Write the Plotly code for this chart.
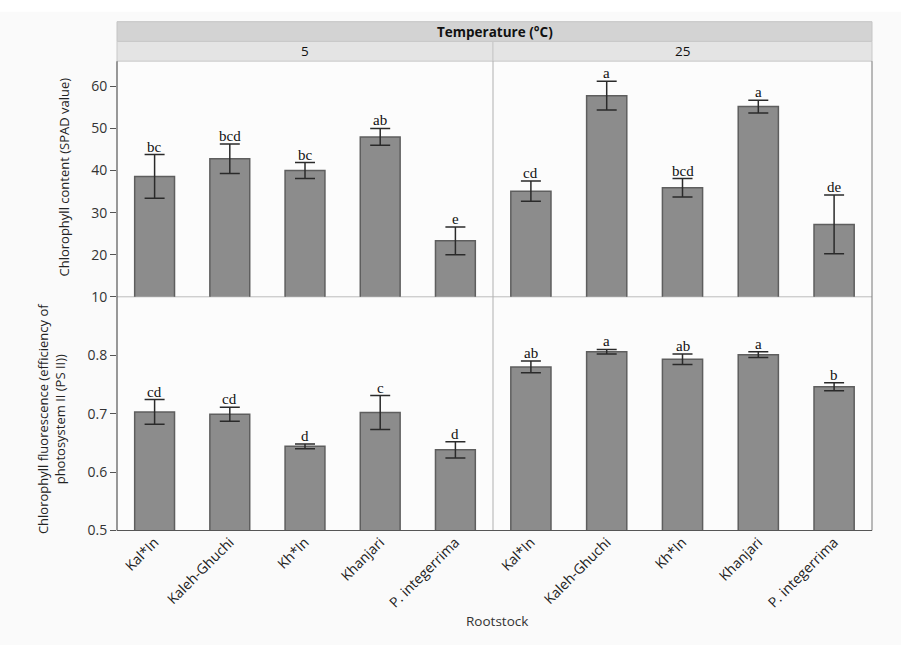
import plotly.graph_objects as go

W, H = 901, 645

rootstocks = ["Kal*In", "Kaleh-Ghuchi", "Kh*In", "Khanjari", "P. integerrima"]
temps = ["5", "25"]

spad_5 = [38.6, 42.8, 40.0, 48.0, 23.3]
spad_5_err = [5.2, 3.5, 1.9, 2.0, 3.3]
spad_25 = [35.1, 57.8, 35.9, 55.2, 27.2]
spad_25_err = [2.4, 3.4, 2.2, 1.5, 7.0]
spad_5_letters = ["bc", "bcd", "bc", "ab", "e"]
spad_25_letters = ["cd", "a", "bcd", "a", "de"]

fv_5 = [0.703, 0.699, 0.644, 0.702, 0.638]
fv_5_err = [0.021, 0.012, 0.004, 0.029, 0.014]
fv_25 = [0.780, 0.806, 0.793, 0.801, 0.746]
fv_25_err = [0.010, 0.004, 0.009, 0.005, 0.007]
fv_5_letters = ["cd", "cd", "d", "c", "d"]
fv_25_letters = ["ab", "a", "ab", "a", "b"]

spad_ticks = [10, 20, 30, 40, 50, 60]
fv_ticks = [0.5, 0.6, 0.7, 0.8]

# layout in pixels
L, M, R = 117, 493, 872
T, MID, B = 62, 301, 538

def px(x):
    return x / W

def py(y):
    return 1 - y / H

fig = go.Figure()

BAR_COLOR = "#8c8c8c"
BAR_LINE = "#5e5e5e"
ERR_COLOR = "#2a2a2a"

panels = [
    ("x", "y", spad_5, spad_5_err, spad_5_letters),
    ("x2", "y2", spad_25, spad_25_err, spad_25_letters),
    ("x3", "y3", fv_5, fv_5_err, fv_5_letters),
    ("x4", "y4", fv_25, fv_25_err, fv_25_letters),
]

annotations = []
for xa, ya, vals, errs, letters in panels:
    fig.add_trace(go.Bar(
        x=rootstocks, y=vals, xaxis=xa, yaxis=ya,
        marker=dict(color=BAR_COLOR, line=dict(color=BAR_LINE, width=1.5)),
        error_y=dict(type="data", array=errs, visible=True, color=ERR_COLOR,
                     thickness=1.5, width=10),
        showlegend=False, hoverinfo="skip",
    ))
    for c, v, e, lab in zip(rootstocks, vals, errs, letters):
        annotations.append(dict(
            x=c, y=v + e, xref=xa, yref=ya, text=lab, showarrow=False,
            xanchor="center", yanchor="bottom", yshift=-2,
            font=dict(family="Liberation Serif", size=15, color="#111"),
        ))

tickfont = dict(family="Open Sans", size=14, color="#333")
xtickfont = dict(family="Open Sans", size=14, color="#222")

common_x = dict(type="category", showgrid=False, zeroline=False, showline=False, ticks="")
fig.update_layout(
    xaxis=dict(domain=[px(L), px(M)], anchor="y", showticklabels=False, **common_x),
    xaxis2=dict(domain=[px(M), px(R)], anchor="y2", showticklabels=False, **common_x),
    xaxis3=dict(domain=[px(L), px(M)], anchor="y3", tickangle=-45, tickfont=xtickfont, **common_x),
    xaxis4=dict(domain=[px(M), px(R)], anchor="y4", tickangle=-45, tickfont=xtickfont, **common_x),
    yaxis=dict(domain=[py(MID), py(T)], anchor="x", range=[10, 66], tickvals=spad_ticks,
               ticks="outside", ticklen=6, tickcolor="#555", tickfont=tickfont,
               showgrid=False, zeroline=False, showline=False),
    yaxis2=dict(domain=[py(MID), py(T)], anchor="x2", range=[10, 66], showticklabels=False,
                showgrid=False, zeroline=False, showline=False),
    yaxis3=dict(domain=[py(B), py(MID)], anchor="x3", range=[0.5, 0.9], tickvals=fv_ticks,
                tickformat=".1f", ticks="outside", ticklen=6, tickcolor="#555", tickfont=tickfont,
                showgrid=False, zeroline=False, showline=False),
    yaxis4=dict(domain=[py(B), py(MID)], anchor="x4", range=[0.5, 0.9], showticklabels=False,
                showgrid=False, zeroline=False, showline=False),
    bargap=0.47,
    width=W, height=H,
    margin=dict(l=0, r=0, t=0, b=0),
    paper_bgcolor="#fafafa",
    plot_bgcolor="#fcfcfc",
)

shapes = []
# header strips
shapes.append(dict(type="rect", xref="paper", yref="paper", x0=px(L), x1=px(R),
                   y0=py(42), y1=py(22), fillcolor="#d3d3d3", line=dict(color="#c4c4c4", width=1), layer="below"))
shapes.append(dict(type="rect", xref="paper", yref="paper", x0=px(L), x1=px(M),
                   y0=py(T), y1=py(42), fillcolor="#e4e4e4", line=dict(color="#c8c8c8", width=1), layer="below"))
shapes.append(dict(type="rect", xref="paper", yref="paper", x0=px(M), x1=px(R),
                   y0=py(T), y1=py(42), fillcolor="#e4e4e4", line=dict(color="#c8c8c8", width=1), layer="below"))
# frame lines
shapes.append(dict(type="line", xref="paper", yref="paper", x0=px(L), x1=px(R), y0=py(MID), y1=py(MID),
                   line=dict(color="#bdbdbd", width=1), layer="below"))
shapes.append(dict(type="line", xref="paper", yref="paper", x0=px(M), x1=px(M), y0=py(B), y1=py(T),
                   line=dict(color="#b0b0b0", width=1), layer="below"))
shapes.append(dict(type="line", xref="paper", yref="paper", x0=px(R), x1=px(R), y0=py(B), y1=py(T),
                   line=dict(color="#777", width=1)))
shapes.append(dict(type="line", xref="paper", yref="paper", x0=px(L), x1=px(L), y0=py(B), y1=py(T),
                   line=dict(color="#555", width=1.2)))
shapes.append(dict(type="line", xref="paper", yref="paper", x0=px(L), x1=px(R), y0=py(B), y1=py(B),
                   line=dict(color="#555", width=1.2)))
# white background top margin
shapes.append(dict(type="rect", xref="paper", yref="paper", x0=0, x1=1, y0=py(12), y1=1,
                   fillcolor="white", line=dict(width=0), layer="below"))

ctr = dict(xanchor="center", yanchor="middle", showarrow=False, xref="paper", yref="paper")
annotations += [
    dict(x=px((L + R) / 2), y=py(32), text="<b>Temperature (°C)</b>",
         font=dict(family="Open Sans", size=13.5, color="#111"), **ctr),
    dict(x=px((L + M) / 2), y=py(52), text=temps[0],
         font=dict(family="Open Sans", size=13.5, color="#111"), **ctr),
    dict(x=px((M + R) / 2), y=py(52), text=temps[1],
         font=dict(family="Open Sans", size=13.5, color="#111"), **ctr),
    dict(x=px(64), y=py(180), text="Chlorophyll content (SPAD value)",
         textangle=-90, font=dict(family="Open Sans", size=13, color="#222"), **ctr),
    dict(x=px(51), y=py(425),
         text="Chlorophyll fluorescence (efficiency of<br>photosystem II (PS II))",
         textangle=-90, font=dict(family="Open Sans", size=13, color="#222"), **ctr),
    dict(x=px(497), y=py(630), text="Rootstock",
         font=dict(family="Open Sans", size=13.5, color="#333"), **ctr),
]

fig.update_layout(shapes=shapes, annotations=annotations)
fig.write_html("out.html", config={"displayModeBar": False},
               post_script="document.body.style.margin='0';")
